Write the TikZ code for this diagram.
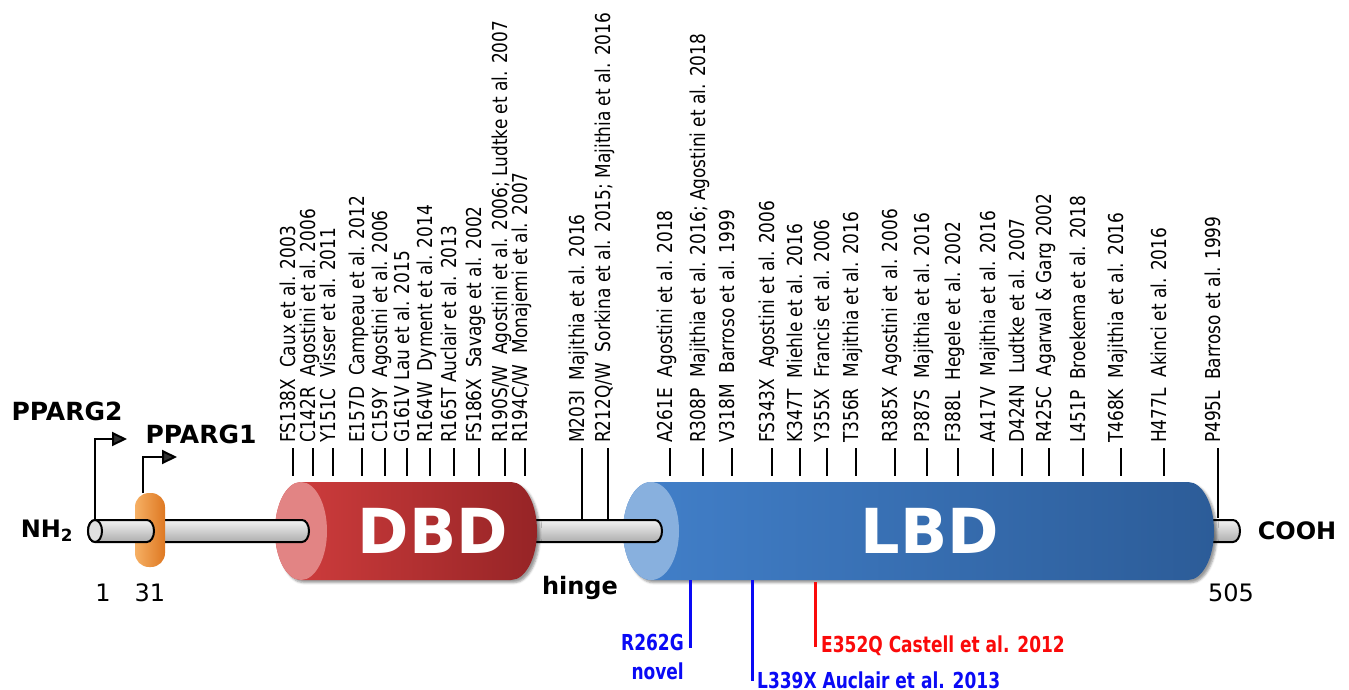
\documentclass[tikz,border=0pt]{standalone}
\usepackage{fontspec}
\setmainfont{DejaVu Sans}
\newfontfamily\labfont[FakeStretch=0.92]{DejaVu Sans Condensed}
\newfontfamily\hitfont[FakeStretch=0.86]{DejaVu Sans Condensed}
\usetikzlibrary{arrows.meta,shadows.blur}

\begin{document}
\begin{tikzpicture}[x=1pt, y=-1pt]
  % Colors
  \definecolor{dbdL}{RGB}{210,62,62}
  \definecolor{dbdR}{RGB}{150,36,38}
  \definecolor{dbdcap}{RGB}{226,132,132}
  \definecolor{lbdL}{RGB}{66,128,202}
  \definecolor{lbdR}{RGB}{44,92,152}
  \definecolor{lbdcap}{RGB}{136,176,222}
  \definecolor{discL}{RGB}{246,176,100}
  \definecolor{discR}{RGB}{222,120,34}
  \definecolor{hitblue}{RGB}{10,10,245}
  \definecolor{hitred}{RGB}{250,10,10}
  %
  \tikzset{
    rod/.style={draw=black, line width=2pt, top color=black!5, bottom color=black!32},
    tick/.style={line width=1.6pt},
    mlabel/.style={rotate=90, anchor=base west, inner sep=0pt,
                   font=\labfont\fontsize{20.5}{24}\selectfont},
    blab/.style={inner sep=0pt, font=\bfseries\fontsize{24}{28}\selectfont},
    num/.style={inner sep=0pt, font=\fontsize{24}{28}\selectfont},
    dom/.style={inner sep=0pt, text=white, font=\bfseries\fontsize{62}{70}\selectfont},
    parrow/.style={line width=2pt, -{Triangle[length=15pt, width=14pt]}},
    hit/.style={line width=3pt},
    hitlab/.style={inner sep=0pt, font=\hitfont\bfseries\fontsize{22}{29}\selectfont},
  }
  %
  % Layout constants
  \def\cy{531}     % axis y
  \def\rry{11}     % rod half height
  \def\rrx{7}      % rod end radius
  \def\dry{49}     % domain half height
  \def\drx{26}     % domain end radius
  \def\ttop{448}   % tick top
  %
  \def\rodseg#1#2{%
    \path[rod] (#1,\cy-\rry) -- (#2,\cy-\rry)
      arc[start angle=-90, end angle=90, x radius=\rrx, y radius=\rry]
      -- (#1,\cy+\rry)
      arc[start angle=90, end angle=270, x radius=\rrx, y radius=\rry] -- cycle;}
  %
  \useasboundingbox (0,0) rectangle (1349,690);
  %
  % === ROD BEHIND LBD ===
  \rodseg{1195}{1233}
  %
  % === LBD ===
  \path[left color=lbdL, right color=lbdR, blur shadow]
    (651,\cy-\dry) -- (1188,\cy-\dry)
    arc[start angle=-90, end angle=90, x radius=\drx, y radius=\dry]
    -- (651,\cy+\dry)
    arc[start angle=90, end angle=270, x radius=28, y radius=\dry] -- cycle;
  \fill[lbdcap] (651,\cy) ellipse[x radius=28, y radius=\dry];
  \node[dom] (lbd) at (930,\cy) {LBD};
  %
  % === HINGE ROD ===
  \rodseg{520}{655}
  %
  % === DBD ===
  \path[left color=dbdL, right color=dbdR, blur shadow]
    (301,\cy-\dry) -- (511,\cy-\dry)
    arc[start angle=-90, end angle=90, x radius=\drx, y radius=\dry]
    -- (301,\cy+\dry)
    arc[start angle=90, end angle=270, x radius=\drx, y radius=\dry] -- cycle;
  \fill[dbdcap] (301,\cy) ellipse[x radius=\drx, y radius=\dry];
  \node[dom] (dbd) at (433,\cy) {DBD};
  %
  % === N-TERMINAL ROD AND DISC ===
  \rodseg{160}{302}
  \path[left color=discL, right color=discR, rounded corners=14pt]
    (135,493) rectangle (165,567);
  \rodseg{95}{147}
  \draw[line width=2pt, fill=black!12] (95,\cy) ellipse[x radius=\rrx, y radius=\rry];
  %
  % === START SITES ===
  \coordinate (p2a) at (95,\cy-\rry);
  \coordinate (p2b) at (127,439);
  \coordinate (p1a) at (143,493);
  \coordinate (p1b) at (177,457);
  \draw[parrow] (p2a) |- (p2b);
  \draw[parrow] (p1a) |- (p1b);
  \node[inner sep=0pt, font=\bfseries\fontsize{25}{28}\selectfont] (pparg2) at (67,411) {PPARG2};
  \node[inner sep=0pt, font=\bfseries\fontsize{25}{28}\selectfont] (pparg1) at (201,434) {PPARG1};
  %
  % === END LABELS ===
  \node[blab] (nh2) at (47,\cy) {NH\textsubscript{2}};
  \node[blab] (cooh) at (1297,\cy) {COOH};
  \node[blab] (hinge) at (580,588) {hinge};
  \node[num] (n1) at (103,593) {1};
  \node[num] (n31) at (150,593) {31};
  \node[num] (n505) at (1231,593) {505};
  %
  % === REPORTED VARIANTS (ticks above) ===
  \foreach \x/\yb/\txt [count=\n] in {
    293/476/{FS138X~~Caux et al. 2003},
    313/476/{C142R~~Agostini et al. 2006},
    333/476/{Y151C~~Visser et al. 2011},
    362/476/{E157D~~Campeau et al. 2012},
    385/476/{C159Y~~Agostini et al. 2006},
    407/476/{G161V~Lau et al. 2015},
    430/476/{R164W~~Dyment et al. 2014},
    454/476/{R165T~Auclair et al. 2013},
    479/476/{FS186X~~Savage et al. 2002},
    505/476/{R190S/W~~Agostini et al. 2006; Ludtke et al. 2007},
    525/476/{R194C/W~~Monajemi et al. 2007},
    582/519/{M203I~~Majithia et al. 2016},
    608/519/{R212Q/W~~Sorkina et al. 2015; Majithia et al. 2016},
    670/476/{A261E~~Agostini et al. 2018},
    703/476/{R308P~~Majithia et al. 2016; Agostini et al. 2018},
    732/476/{V318M~~Barroso et al. 1999},
    772/476/{FS343X~~Agostini et al. 2006},
    800/476/{K347T~~Miehle et al. 2016},
    827/476/{Y355X~~Francis et al. 2006},
    856/476/{T356R~~Majithia et al. 2016},
    895/476/{R385X~~Agostini et al. 2006},
    927/476/{P387S~~Majithia et al. 2016},
    958/476/{F388L~~Hegele et al. 2002},
    993/476/{A417V~~Majithia et al. 2016},
    1022/476/{D424N~~Ludtke et al. 2007},
    1049/476/{R425C~~Agarwal \& Garg 2002},
    1083/476/{L451P~~Broekema et al. 2018},
    1121/476/{T468K~~Majithia et al. 2016},
    1164/476/{H477L~~Akinci et al. 2016},
    1218/518/{P495L~~Barroso et al. 1999}%
  } {
    \coordinate (tt\n) at (\x,\ttop);
    \coordinate (tb\n) at (\x,\yb);
    \draw[tick] (tt\n) -- (tb\n);
    \node[mlabel] (m\n) at ([xshift=2pt, yshift=5pt]tt\n) {\txt};
  }
  %
  % === NEW VARIANTS (ticks below) ===
  \coordinate (h262a) at (690,580);
  \coordinate (h262b) at (690,648);
  \coordinate (h339a) at (752,580);
  \coordinate (h339b) at (752,681);
  \coordinate (h352a) at (815,582);
  \coordinate (h352b) at (815,647);
  \draw[hit, hitblue] (h262a) -- (h262b);
  \draw[hit, hitblue] (h339a) -- (h339b);
  \draw[hit, hitred] (h352a) -- (h352b);
  \node[hitlab, text=hitblue, align=right, anchor=east] (r262) at (684,657) {R262G\\novel};
  \node[hitlab, text=hitblue, anchor=west] (l339) at (757,680) {L339X Auclair et al. 2013};
  \node[hitlab, text=hitred, anchor=west] (e352) at (821,646) {E352Q Castell et al. 2012};
  %
\end{tikzpicture}
\end{document}
